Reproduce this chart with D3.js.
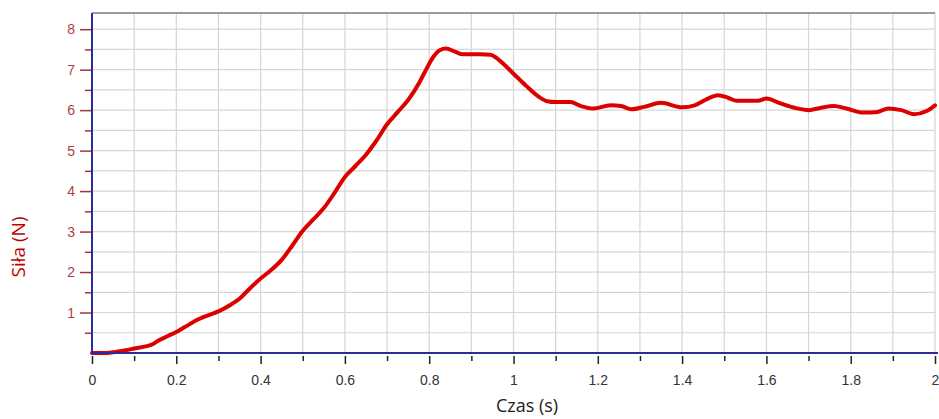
<!DOCTYPE html>
<html><head><meta charset="utf-8">
<script src="https://cdn.jsdelivr.net/npm/d3@7"></script>
<style>body{margin:0;background:#fff}svg{display:block}</style>
</head><body>
<script>
const time = [0,0.03,0.05,0.08,0.10,0.13,0.14,0.16,0.18,0.20,0.22,0.25,0.28,0.30,0.33,0.35,0.375,0.40,0.425,0.45,0.475,0.50,0.525,0.55,0.575,0.60,0.625,0.65,0.675,0.70,0.725,0.75,0.775,0.79,0.81,0.825,0.84,0.86,0.88,0.92,0.945,0.97,1.0,1.03,1.06,1.08,1.10,1.135,1.16,1.19,1.23,1.255,1.28,1.31,1.35,1.40,1.43,1.46,1.485,1.51,1.53,1.58,1.60,1.63,1.67,1.70,1.73,1.76,1.79,1.83,1.86,1.89,1.92,1.95,1.98,2.0];
const force = [0,0,0.02,0.07,0.11,0.17,0.2,0.32,0.42,0.52,0.64,0.82,0.95,1.03,1.2,1.34,1.6,1.84,2.05,2.3,2.65,3.02,3.3,3.58,3.95,4.35,4.62,4.9,5.25,5.65,5.95,6.25,6.65,6.95,7.32,7.48,7.52,7.45,7.38,7.38,7.37,7.2,6.9,6.6,6.33,6.22,6.2,6.2,6.1,6.04,6.12,6.1,6.02,6.08,6.18,6.07,6.12,6.28,6.37,6.3,6.23,6.23,6.29,6.18,6.05,6.0,6.06,6.1,6.04,5.94,5.95,6.04,6.0,5.9,5.98,6.12];
const xTickLabels = [0,0.2,0.4,0.6,0.8,1,1.2,1.4,1.6,1.8,2];
const yTickLabels = [1,2,3,4,5,6,7,8];
const xLabel = "Czas (s)";
const yLabel = "Siła (N)";

const W = 939, H = 419;
const svg = d3.select("body").append("svg").attr("width", W).attr("height", H);
const x = d3.scaleLinear().domain([0, 2]).range([92, 935]);
const y = d3.scaleLinear().domain([0, 8.4]).range([353, 13]);

// grid
const vGrid = d3.range(0, 21).map(i => i / 10);
const hGrid = d3.range(1, 17).map(i => i / 2);
svg.append("g").selectAll("line").data(vGrid).join("line")
  .attr("x1", d => x(d)).attr("x2", d => x(d)).attr("y1", y(8.4)).attr("y2", y(0))
  .attr("stroke", "#d6d6d6").attr("stroke-width", 1.2);
svg.append("g").selectAll("line").data(hGrid).join("line")
  .attr("x1", x(0)).attr("x2", x(2)).attr("y1", d => y(d)).attr("y2", d => y(d))
  .attr("stroke", "#d6d6d6").attr("stroke-width", 1.2);
// top border
svg.append("line").attr("x1", x(0)).attr("x2", x(2)).attr("y1", y(8.4)).attr("y2", y(8.4))
  .attr("stroke", "#7a7a7a").attr("stroke-width", 1.5);

// x axis ticks
const xMinor = d3.range(0, 21).map(i => i / 10);
const xa = svg.append("g").attr("transform", `translate(0,${y(0) + 3})`)
  .call(d3.axisBottom(x).tickValues(xMinor).tickSize(0).tickFormat(""));
xa.select(".domain").remove();
xa.selectAll(".tick line").attr("y2", (d) => (Math.round(d * 10) % 2 === 0) ? 8 : 5)
  .attr("stroke", "#222").attr("stroke-width", 1.5);
const xl = svg.append("g").attr("transform", `translate(0,${y(0)})`)
  .call(d3.axisBottom(x).tickValues(xTickLabels).tickSize(0).tickPadding(22)
  .tickFormat(d => String(+d.toFixed(1))));
xl.select(".domain").remove();
xl.selectAll("text").attr("font-family", "Liberation Sans, Arial, sans-serif")
  .attr("font-size", 14).attr("fill", "#333");

// y axis
const yMinor = d3.range(1, 17).map(i => i / 2);
const ya = svg.append("g").attr("transform", `translate(${x(0) - 1},0)`)
  .call(d3.axisLeft(y).tickValues(yMinor).tickSize(0).tickFormat(""));
ya.select(".domain").remove();
ya.selectAll(".tick line").attr("x2", d => Number.isInteger(d) ? -11 : -6)
  .attr("stroke", "#a33535").attr("stroke-width", 1.5);
const yl = svg.append("g").attr("transform", `translate(${x(0)},0)`)
  .call(d3.axisLeft(y).tickValues(yTickLabels).tickSize(0).tickPadding(17).tickFormat(d3.format("d")));
yl.select(".domain").remove();
yl.selectAll("text").attr("font-family", "Liberation Sans, Arial, sans-serif")
  .attr("font-size", 14).attr("fill", "#b04040");

// curve
const pts = time.map((t, i) => [t, force[i]]);
svg.append("path").datum(pts)
  .attr("d", d3.line().x(d => x(d[0])).y(d => y(d[1])).curve(d3.curveMonotoneX))
  .attr("fill", "none").attr("stroke", "#dd0000").attr("stroke-width", 4)
  .attr("stroke-linejoin", "round").attr("stroke-linecap", "round");

// axis lines
svg.append("line").attr("x1", x(0)).attr("x2", x(0)).attr("y1", y(8.4)).attr("y2", y(0) + 1)
  .attr("stroke", "#2b2b9e").attr("stroke-width", 2);
svg.append("line").attr("x1", x(0)).attr("x2", 938).attr("y1", y(0)).attr("y2", y(0))
  .attr("stroke", "#2b2b9e").attr("stroke-width", 2);

// labels
svg.append("text").attr("x", 527).attr("y", 412).attr("text-anchor", "middle")
  .attr("font-family", "Open Sans, Noto Sans, sans-serif").attr("font-size", 18).attr("fill", "#222")
  .text(xLabel);
svg.append("text").attr("transform", "translate(25,247) rotate(-90)").attr("text-anchor", "middle")
  .attr("font-family", "Open Sans, Noto Sans, sans-serif").attr("font-size", 19).attr("fill", "#c00000")
  .text(yLabel);
</script>
</body></html>
